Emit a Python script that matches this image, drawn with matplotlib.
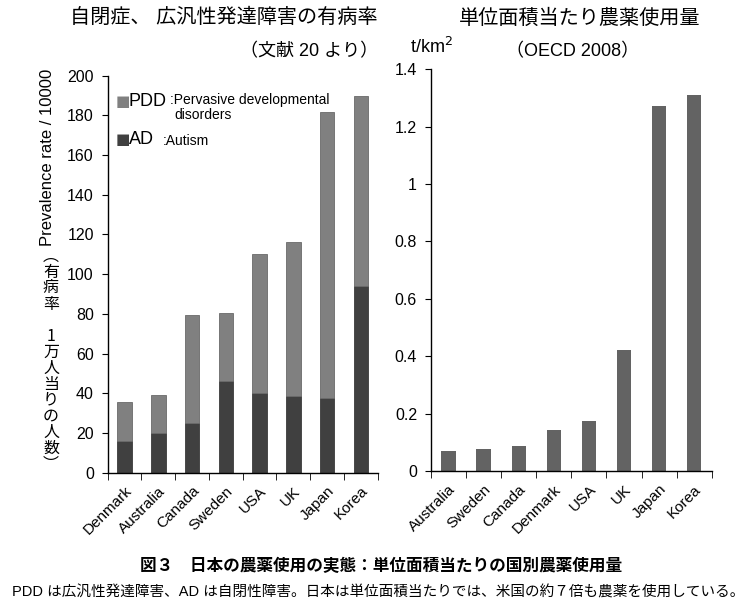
import matplotlib
matplotlib.use("Agg")
import matplotlib.pyplot as plt

plt.rcParams['font.family'] = ['Liberation Sans', 'Noto Sans CJK JP']

# left chart: prevalence per 10000
prev_countries = ['Denmark', 'Australia', 'Canada', 'Sweden', 'USA', 'UK', 'Japan', 'Korea']
pdd_total = [35.7, 39.0, 79.3, 80.6, 110.0, 116.0, 181.5, 189.8]
ad_vals = [15.8, 20.0, 24.9, 46.2, 40.3, 38.8, 37.6, 94.0]

# right chart: pesticide use t/km2
pest_countries = ['Australia', 'Sweden', 'Canada', 'Denmark', 'USA', 'UK', 'Japan', 'Korea']
pest_vals = [0.071, 0.078, 0.088, 0.142, 0.173, 0.423, 1.272, 1.312]

W, H = 755, 608
fig = plt.figure(figsize=(W / 100, H / 100), dpi=100)

def fx(px):
    return px / W

def fy(py):
    return 1 - py / H

# ---- left chart
ax1 = fig.add_axes([fx(107.7), fy(472.7), fx(377.7 - 107.7), (472.7 - 75.7) / H])
x1 = range(len(prev_countries))
pdd_only = [t - a for t, a in zip(pdd_total, ad_vals)]
ax1.bar(x1, ad_vals, width=0.43, color='#404040', edgecolor='#3a3a3a', linewidth=0.6)
ax1.bar(x1, pdd_only, bottom=ad_vals, width=0.43, color='#808080', edgecolor='#6a6a6a', linewidth=0.6)
ax1.set_ylim(0, 200)
ax1.set_xlim(-0.5, len(prev_countries) - 0.5)
ax1.set_yticks(range(0, 201, 20))
ax1.tick_params(axis='y', direction='out', length=4, labelsize=11.5, pad=6)

# ---- right chart
ax2 = fig.add_axes([fx(431), fy(471), fx(711.7 - 431), (471 - 69.3) / H])
x2 = range(len(pest_countries))
ax2.bar(x2, pest_vals, width=0.41, color='#636363')
ax2.set_ylim(0, 1.4)
ax2.set_xlim(-0.5, len(pest_countries) - 0.5)
ax2.set_yticks([0, 0.2, 0.4, 0.6, 0.8, 1.0, 1.2, 1.4])
ax2.set_yticklabels(['0', '0.2', '0.4', '0.6', '0.8', '1', '1.2', '1.4'])
ax2.tick_params(axis='y', direction='out', length=4, labelsize=11.5, pad=6)

for ax, names in ((ax1, prev_countries), (ax2, pest_countries)):
    for s in ('top', 'right'):
        ax.spines[s].set_visible(False)
    ax.spines['left'].set_linewidth(1.0)
    ax.spines['bottom'].set_linewidth(1.0)
    n = len(names)
    ax.set_xticks(range(n))
    ax.set_xticklabels(names, rotation=45, ha='right', rotation_mode='anchor', fontsize=11)
    ax.set_xticks([i - 0.5 for i in range(n + 1)], minor=True)
    ax.tick_params(axis='x', which='major', length=0, pad=8)
    ax.tick_params(axis='x', which='minor', length=5, direction='out')

# legend (hand made)
fig.text(fx(116), fy(101), '■', color='#808080', fontsize=11, va='center', ha='left',
         family=['DejaVu Sans'])
fig.text(fx(129), fy(101), 'PDD', fontsize=13, va='center', ha='left')
fig.text(fx(170), fy(100), ':Pervasive developmental', fontsize=10, va='center', ha='left')
fig.text(fx(174), fy(115), 'disorders', fontsize=10, va='center', ha='left')
fig.text(fx(116), fy(140), '■', color='#404040', fontsize=11, va='center', ha='left',
         family=['DejaVu Sans'])
fig.text(fx(129), fy(140), 'AD', fontsize=13, va='center', ha='left')
fig.text(fx(163), fy(141), ':Autism', fontsize=10, va='center', ha='left')

# titles
fig.text(fx(224), fy(17), '自閉症、 広汎性発達障害の有病率', fontsize=14.5, ha='center', va='center')
fig.text(fx(309), fy(52), '（文献 20 より）', fontsize=13, ha='center', va='center')
fig.text(fx(580), fy(18), '単位面積当たり農薬使用量', fontsize=14.5, ha='center', va='center')
fig.text(fx(573), fy(52), '（OECD 2008）', fontsize=13, ha='center', va='center')
fig.text(fx(431), fy(47), 't/km$^2$', fontsize=13, ha='center', va='center')

# left y label
fig.text(fx(48), fy(157), 'Prevalence rate / 10000', fontsize=12, rotation=90,
         ha='center', va='center')
vert_chars = ['︵', '有', '病', '率', '', '1', '万', '人', '当', 'り', 'の', '人', '数', '︶']
y0, step = 256, 16
for i, ch in enumerate(vert_chars):
    if ch:
        fig.text(fx(51), fy(y0 + i * step), ch, fontsize=11.5, ha='center', va='center',
                 family=['Noto Sans CJK JP'])

# captions
fig.text(fx(381), fy(566), '図３　日本の農薬使用の実態：単位面積当たりの国別農薬使用量',
         fontsize=12, fontweight='bold', ha='center', va='center')
fig.text(fx(378), fy(592),
         'PDD は広汎性発達障害、AD は自閉性障害。日本は単位面積当たりでは、米国の約７倍も農薬を使用している。',
         fontsize=10.5, ha='center', va='center')

fig.savefig('out.png', dpi=100)
